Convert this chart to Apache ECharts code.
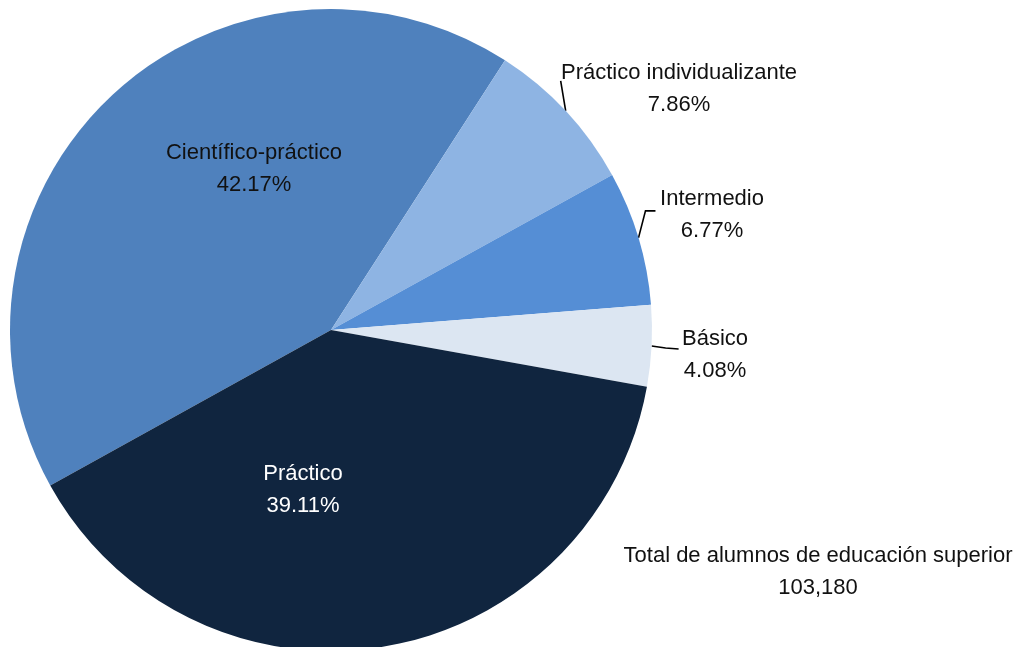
<!DOCTYPE html>
<html>
<head>
<meta charset="utf-8">
<title>Alumnos de educación superior</title>
<script src="https://cdn.jsdelivr.net/npm/echarts@6/dist/echarts.min.js"></script>
<style>
  html, body { margin: 0; padding: 0; background: #fff; }
  #chartBox { width: 1024px; height: 647px; }
</style>
</head>
<body>
<div id="chartBox"></div>
<script>
// datos
var categories = ['Científico-práctico', 'Práctico individualizante', 'Intermedio', 'Básico', 'Práctico'];
var values = [42.17, 7.86, 6.77, 4.08, 39.11];
var totalLabel = 'Total de alumnos de educación superior';
var totalValue = '103,180';

var colors = ['#4F81BD', '#8EB4E3', '#558ED5', '#DCE6F2', '#10253F'];
var labelColors = ['#111111', '#111111', '#111111', '#111111', '#ffffff'];
var insideIdx = [0, 4];
// centro del texto de cada etiqueta
var labelPos = [[254, 169], [679, 89], [712, 215], [715, 355], [303, 490]];
// quiebres de las líneas guía, relativos al borde del pastel
var guideBends = [null, [[-5, -30], [-5, -30]], [[7, -27], [17, -27]], [[14, 2], [27, 3]], null];

var FONT = "'Liberation Sans Narrow', 'Arial Narrow', 'Liberation Sans', sans-serif";

var chart = echarts.init(document.getElementById('chartBox'));

var data = categories.map(function (name, i) {
  var inside = insideIdx.indexOf(i) >= 0;
  return {
    name: name,
    value: values[i],
    itemStyle: { color: colors[i] },
    label: { position: inside ? 'inside' : 'outside', color: labelColors[i] },
    labelLine: { show: !inside }
  };
});

var option = {
  animation: false,
  backgroundColor: '#ffffff',
  graphic: [{
    type: 'text',
    x: 818,
    y: 540,
    style: {
      text: totalLabel + '\n' + totalValue,
      font: '22px ' + FONT,
      fill: '#111111',
      textAlign: 'center',
      lineHeight: 32
    }
  }],
  series: [{
    type: 'pie',
    center: [331, 330],
    radius: [0, 321],
    startAngle: 209,
    clockwise: true,
    avoidLabelOverlap: false,
    itemStyle: { borderWidth: 0 },
    label: {
      show: true,
      fontFamily: FONT,
      fontSize: 22,
      lineHeight: 32,
      formatter: function (p) { return p.name + '\n' + p.value.toFixed(2) + '%'; }
    },
    labelLine: {
      length: 10, length2: 10,
      lineStyle: { color: '#000', width: 1.6 }
    },
    labelLayout: function (p) {
      var i = p.dataIndex;
      var res = {
        x: labelPos[i][0],
        y: labelPos[i][1],
        align: 'center',
        verticalAlign: 'middle'
      };
      if (p.labelLinePoints && guideBends[i]) {
        var s = p.labelLinePoints[0];
        var pts = [[s[0], s[1]]];
        guideBends[i].forEach(function (b) { pts.push([s[0] + b[0], s[1] + b[1]]); });
        res.labelLinePoints = pts;
      }
      return res;
    },
    data: data
  }]
};

chart.setOption(option);
</script>
</body>
</html>
